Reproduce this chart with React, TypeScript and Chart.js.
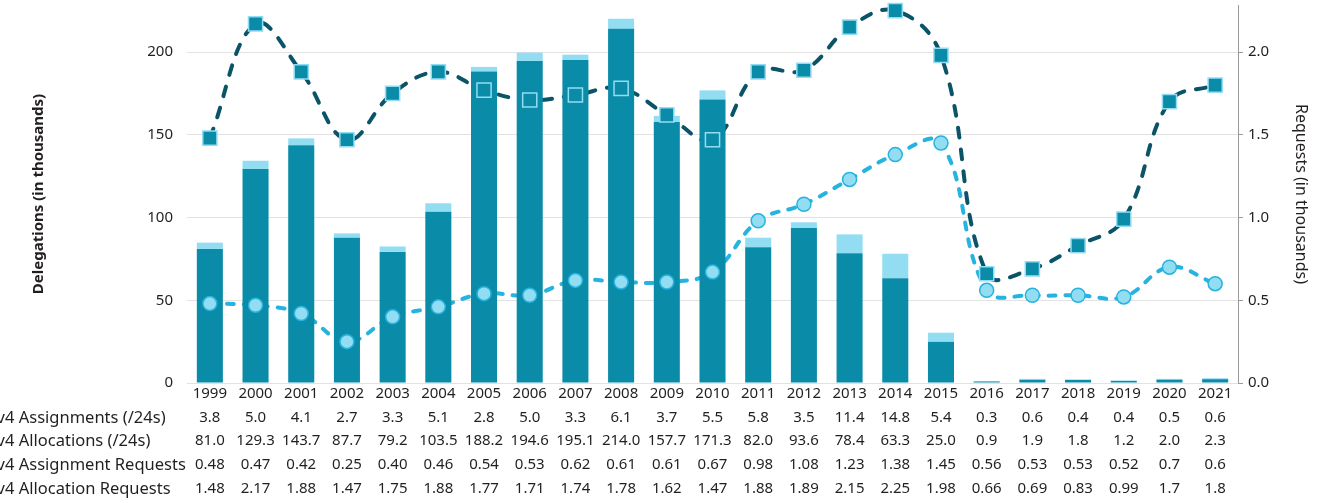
import React, { useEffect, useRef } from "react";
import { Chart, registerables } from "chart.js";

Chart.register(...registerables);

const years = ["1999","2000","2001","2002","2003","2004","2005","2006","2007","2008","2009","2010","2011","2012","2013","2014","2015","2016","2017","2018","2019","2020","2021"];
const allocations = [81.0,129.3,143.7,87.7,79.2,103.5,188.2,194.6,195.1,214.0,157.7,171.3,82.0,93.6,78.4,63.3,25.0,0.9,1.9,1.8,1.2,2.0,2.3];
const assignments = [3.8,5.0,4.1,2.7,3.3,5.1,2.8,5.0,3.3,6.1,3.7,5.5,5.8,3.5,11.4,14.8,5.4,0.3,0.6,0.4,0.4,0.5,0.6];
const assignmentRequestsText = ["0.48","0.47","0.42","0.25","0.40","0.46","0.54","0.53","0.62","0.61","0.61","0.67","0.98","1.08","1.23","1.38","1.45","0.56","0.53","0.53","0.52","0.7","0.6"];
const allocationRequestsText = ["1.48","2.17","1.88","1.47","1.75","1.88","1.77","1.71","1.74","1.78","1.62","1.47","1.88","1.89","2.15","2.25","1.98","0.66","0.69","0.83","0.99","1.7","1.8"];
const assignmentRequests = assignmentRequestsText.map(Number);
const allocationRequests = allocationRequestsText.map(Number);
const rowLabels = ["IPv4 Assignments (/24s)", "IPv4 Allocations (/24s)", "IPv4 Assignment Requests", "IPv4 Allocation Requests"];
const leftTicks = [0, 50, 100, 150, 200];
const rightTicks = [0, 0.5, 1.0, 1.5, 2.0];

const BAR_DARK = "#0a8ba8";
const BAR_LIGHT = "#93ddf3";
const NAVY = "#0b5468";
const LIGHT_LINE = "#25b3df";
const TEXT = "#231f20";
const FONT = "'Noto Sans', sans-serif";

const tablePlugin = {
  id: "tablePlugin",
  afterDraw(chart: any) {
    const ctx = chart.ctx;
    const x = chart.scales.x;
    const rows = [
      assignments.map((v) => v.toFixed(1)),
      allocations.map((v) => v.toFixed(1)),
      assignmentRequestsText,
      allocationRequestsText,
    ];
    const ys = [418, 441, 465, 489];
    ctx.save();
    ctx.fillStyle = TEXT;
    ctx.textBaseline = "middle";
    rows.forEach((row, r) => {
      ctx.font = `16.5px ${FONT}`;
      ctx.textAlign = "left";
      const off = ctx.measureText("IPv").width;
      ctx.fillText(rowLabels[r], 5 - off, ys[r]);
      ctx.font = `15px ${FONT}`;
      ctx.textAlign = "center";
      row.forEach((t, i) => {
        ctx.fillText(t, x.getPixelForValue(i), ys[r]);
      });
    });
    ctx.restore();
  },
};

export default function App() {
  const ref = useRef<HTMLCanvasElement | null>(null);
  useEffect(() => {
    if (!ref.current) return;
    const chart = new Chart(ref.current, {
      type: "bar",
      data: {
        labels: years,
        datasets: [
          {
            type: "line",
            label: "Allocation Requests line",
            data: allocationRequests,
            yAxisID: "y2",
            borderColor: NAVY,
            borderWidth: 4,
            borderDash: [10, 12],
            borderCapStyle: "round",
            tension: 0.4,
            pointRadius: 0,
            fill: false,
            order: 5,
          } as any,
          {
            type: "line",
            label: "Assignment Requests line",
            data: assignmentRequests,
            yAxisID: "y2",
            borderColor: LIGHT_LINE,
            borderWidth: 4,
            borderDash: [7, 10],
            borderCapStyle: "round",
            tension: 0.4,
            pointRadius: 0,
            fill: false,
            order: 4,
          } as any,
          {
            type: "bar",
            label: "Allocations",
            data: allocations,
            yAxisID: "y",
            backgroundColor: BAR_DARK,
            stack: "s",
            barPercentage: 0.57,
            categoryPercentage: 1,
            order: 3,
          },
          {
            type: "bar",
            label: "Assignments",
            data: assignments,
            yAxisID: "y",
            backgroundColor: BAR_LIGHT,
            stack: "s",
            barPercentage: 0.57,
            categoryPercentage: 1,
            order: 3,
          },
          {
            type: "line",
            label: "Allocation Requests",
            data: allocationRequests,
            yAxisID: "y2",
            showLine: false,
            pointStyle: "rect",
            pointRadius: 10,
            pointBackgroundColor: BAR_DARK,
            pointBorderColor: BAR_LIGHT,
            pointBorderWidth: 1.5,
            clip: false,
            order: 1,
          } as any,
          {
            type: "line",
            label: "Assignment Requests",
            data: assignmentRequests,
            yAxisID: "y2",
            showLine: false,
            pointStyle: "circle",
            pointRadius: 7,
            pointBackgroundColor: BAR_LIGHT,
            pointBorderColor: LIGHT_LINE,
            pointBorderWidth: 1.5,
            clip: false,
            order: 0,
          } as any,
        ],
      },
      options: {
        animation: false,
        responsive: true,
        maintainAspectRatio: false,
        layout: { autoPadding: false, padding: { top: 5, left: 18, right: 0, bottom: 0 } },
        plugins: { legend: { display: false }, tooltip: { enabled: false } },
        scales: {
          x: {
            stacked: true,
            grid: { display: false, drawTicks: false },
            border: { display: false },
            ticks: { color: TEXT, font: { family: FONT, size: 15 }, padding: 2, maxRotation: 0, autoSkip: false },
            afterFit: (s: any) => { s.height = 120; s.paddingLeft = 0; s.paddingRight = 0; },
          },
          y: {
            stacked: true,
            position: "left",
            min: 0,
            max: 228.4,
            afterBuildTicks: (s: any) => { s.ticks = leftTicks.map((v) => ({ value: v })); },
            afterFit: (s: any) => { s.width = 169; s.paddingTop = 0; s.paddingBottom = 0; },
            grid: { color: "#e2e2e2", drawTicks: false, lineWidth: 1 },
            border: { display: false },
            ticks: { color: TEXT, font: { family: FONT, size: 15 }, padding: 14 },
            title: { display: true, text: "Delegations (in thousands)", color: TEXT, font: { family: FONT, size: 15, weight: "bold" }, padding: { top: 12, bottom: 0 } },
          },
          y2: {
            position: "right",
            min: 0,
            max: 2.284,
            afterBuildTicks: (s: any) => { s.ticks = rightTicks.map((v) => ({ value: v })); },
            afterFit: (s: any) => { s.width = 1320 - 1238; s.paddingTop = 0; s.paddingBottom = 0; },
            grid: { drawOnChartArea: false, drawTicks: true, tickLength: 5, color: "#9a9a9a" },
            border: { display: true, color: "#9a9a9a", width: 1 },
            ticks: { color: TEXT, font: { family: FONT, size: 15 }, padding: 5, callback: (v: any) => Number(v).toFixed(1) },
            title: { display: true, text: "Requests (in thousands)", color: TEXT, font: { family: FONT, size: 16 }, padding: { top: 10, bottom: 9 } },
          },
        },
      },
      plugins: [tablePlugin],
    } as any);
    return () => chart.destroy();
  }, []);
  return (
    <div style={{ position: "absolute", left: 0, top: 0, width: 1320, height: 503, background: "#fff" }}>
      <canvas ref={ref} />
    </div>
  );
}
